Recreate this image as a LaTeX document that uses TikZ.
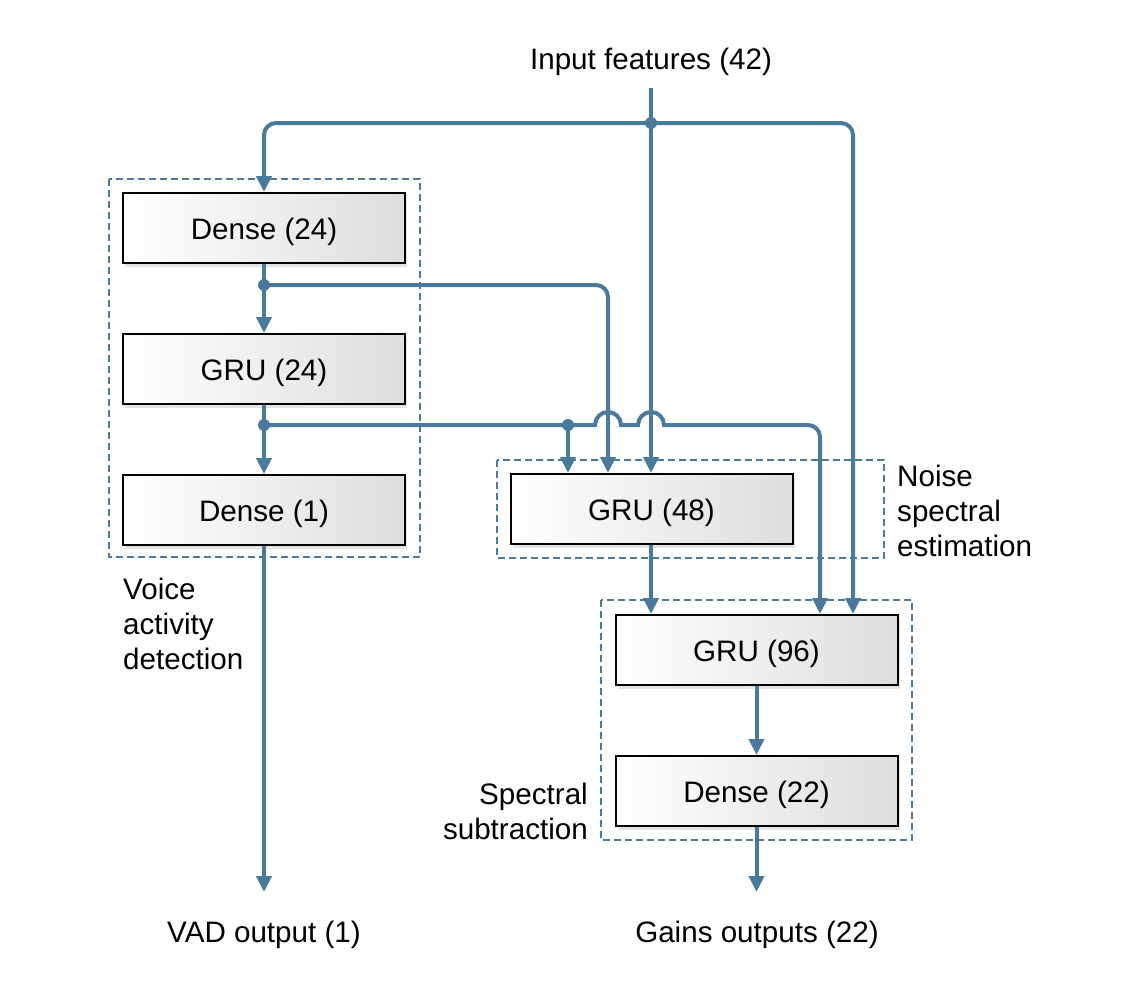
\documentclass[tikz,border=0pt]{standalone}
\usepackage{fontspec}
\setmainfont{Liberation Sans}
\usetikzlibrary{arrows.meta,shadows,calc}
\definecolor{lnblue}{RGB}{74,122,155}
\newcommand{\lowr}[1]{\raisebox{-4pt}[\height][\depth]{#1}}
\tikzset{
  txt/.style={font=\fontsize{29.6}{35}\selectfont, inner sep=0pt},
  block/.style={draw=black, line width=2pt, minimum width=282pt, minimum height=70pt,
    left color=white, right color=black!13, txt,
    drop shadow={opacity=0.22, shadow xshift=2pt, shadow yshift=-4pt}},
  group/.style={draw=lnblue, line width=1.5pt, dash pattern=on 7pt off 4pt},
  conn/.style={draw=lnblue, line width=4pt},
  arr/.style={conn, -{Triangle[length=16pt,width=15pt]}},
  dot/.style={circle, fill=lnblue, inner sep=0pt, minimum size=12pt},
}
\begin{document}
\begin{tikzpicture}[x=1pt,y=-1pt]
\useasboundingbox (0,0) rectangle (1125,988);
% group frames
\draw[group] (109,179) rectangle (420,557);
\draw[group] (497,460) rectangle (884,558);
\draw[group] (601,600) rectangle (912,840);
% blocks
\node[block] (d24) at (264,228) {\lowr{Dense (24)}};
\node[block] (gru24) at (264,369) {\lowr{GRU (24)}};
\node[block] (d1) at (264,510) {\lowr{Dense (1)}};
\node[block] (gru48) at (651.5,509) {\lowr{GRU (48)}};
\node[block] (gru96) at (756.5,650) {\lowr{GRU (96)}};
\node[block] (d22) at (756.5,791) {\lowr{Dense (22)}};
% texts
\node[txt] (inlbl) at (651,62) {Input features (42)};
\node[txt] (vadlbl) at (264,935) {VAD output (1)};
\node[txt] (gainlbl) at (757,935) {Gains outputs (22)};
\node[txt, align=left, anchor=north west] (vadgrp) at (123,578) {Voice\\activity\\detection};
\node[txt, align=left, anchor=north west] (noisegrp) at (897,465) {Noise\\spectral\\estimation};
\node[txt, align=right, anchor=north east] (specgrp) at (588,783) {Spectral\\subtraction};
% coordinates
\coordinate (in) at (651,88);
\coordinate (j0) at (651,123);
\coordinate (j1) at (264,285);
\coordinate (j2) at (264,425);
\coordinate (j3) at (568,425);
\coordinate (out1) at (264,892);
\coordinate (out2) at (756.5,892);
% connectors
\draw[arr] (in) -- ([xshift=-0.5pt]gru48.north);
\draw[arr, rounded corners=12pt] (j0) -| (d24.north);
\draw[arr, rounded corners=12pt] (j0) -| ([xshift=96.5pt]gru96.north);
\draw[arr] (d24) -- (gru24);
\draw[arr, rounded corners=12pt] (j1) -| ([xshift=-43.5pt]gru48.north);
\draw[arr] (gru24) -- (d1);
\draw[arr] (j2) -- (595,425) arc[start angle=180, end angle=0, radius=13pt]
  -- (638,425) arc[start angle=180, end angle=0, radius=13pt]
  [rounded corners=12pt] -- (820,425) -- ([xshift=63.5pt]gru96.north);
\draw[arr] (j3) -- ([xshift=-83.5pt]gru48.north);
\draw[arr] ([xshift=-0.5pt]gru48.south) -- ([xshift=-105.5pt]gru96.north);
\draw[arr] (gru96) -- (d22);
\draw[arr] (d1) -- (out1);
\draw[arr] (d22.south) -- (out2);
% junction dots
\node[dot] at (j0) {};
\node[dot] at (j1) {};
\node[dot] at (j2) {};
\node[dot] at (j3) {};
\end{tikzpicture}
\end{document}
